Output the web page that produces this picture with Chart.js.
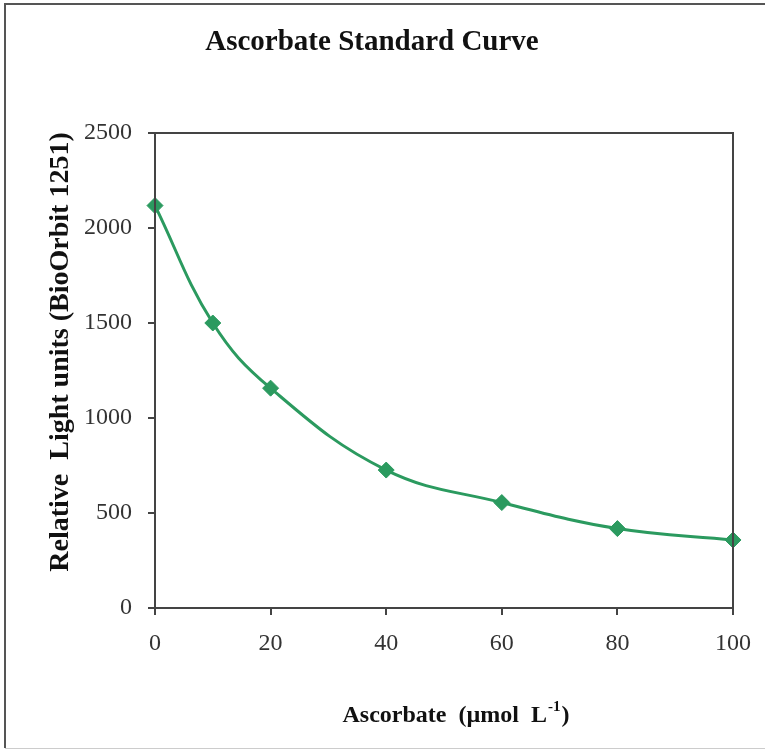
<!DOCTYPE html>
<html>
<head>
<meta charset="utf-8">
<script src="https://cdn.jsdelivr.net/npm/chart.js@4.4.1/dist/chart.umd.min.js"></script>
<style>
  html, body { margin: 0; padding: 0; background: #fff; }
  #wrap { position: relative; width: 765px; height: 750px; }
</style>
</head>
<body>
<div id="wrap"><canvas id="myChart" width="765" height="750"></canvas></div>
<script>
    "use strict";

    // values
    var ascorbate = [0, 10, 20, 40, 60, 80, 100];
    var lightUnits = [2118, 1500, 1157, 726, 555, 418, 358];
    var xTicks = [0, 20, 40, 60, 80, 100];
    var yTicks = [0, 500, 1000, 1500, 2000, 2500];

    var green = '#2b9a5f';
    var axisGrey = '#444';
    var serif = '"Liberation Serif", "Times New Roman", serif';

    // titles and outer frame drawn on the canvas
    var labelsPlugin = {
        id: 'labels',
        afterDraw: function (chart) {
            var ctx = chart.ctx;
            var area = chart.chartArea;
            ctx.save();

            // outer frame
            ctx.strokeStyle = '#555';
            ctx.lineWidth = 2;
            ctx.beginPath();
            ctx.moveTo(5, 748);
            ctx.lineTo(5, 4);
            ctx.lineTo(765, 4);
            ctx.stroke();
            ctx.strokeStyle = '#ccc';
            ctx.lineWidth = 1;
            ctx.beginPath();
            ctx.moveTo(5, 748.5);
            ctx.lineTo(765, 748.5);
            ctx.stroke();

            // plot box
            ctx.strokeStyle = axisGrey;
            ctx.lineWidth = 2;
            ctx.strokeRect(area.left, area.top, area.right - area.left, area.bottom - area.top);

            ctx.fillStyle = '#111';
            ctx.textBaseline = 'middle';

            // chart title
            ctx.font = 'bold 29px ' + serif;
            ctx.textAlign = 'center';
            ctx.fillText('Ascorbate Standard Curve', 372, 43);

            // y axis title
            ctx.save();
            ctx.translate(61, 352);
            ctx.rotate(-Math.PI / 2);
            ctx.font = 'bold 28px ' + serif;
            ctx.fillText('Relative  Light units (BioOrbit 1251)', 0, 0);
            ctx.restore();

            // x axis title with superscript
            ctx.font = 'bold 24px ' + serif;
            ctx.textAlign = 'left';
            var main = 'Ascorbate  (\u00b5mol  L';
            var sup = '-1';
            var tail = ')';
            var wMain = ctx.measureText(main).width;
            ctx.font = 'bold 15px ' + serif;
            var wSup = ctx.measureText(sup).width;
            ctx.font = 'bold 24px ' + serif;
            var wTail = ctx.measureText(tail).width;
            var x0 = 455 - (wMain + wSup + wTail) / 2;
            var y0 = 716;
            ctx.fillText(main, x0, y0);
            ctx.font = 'bold 15px ' + serif;
            ctx.fillText(sup, x0 + wMain + 1, y0 - 9);
            ctx.font = 'bold 24px ' + serif;
            ctx.fillText(tail, x0 + wMain + wSup + 2, y0);

            ctx.restore();
        }
    };

    var points = ascorbate.map(function (x, i) {
        return { x: x, y: lightUnits[i] };
    });

    var ctx = document.getElementById('myChart').getContext('2d');
    var chart = new Chart(ctx, {
        type: 'line',
        data: {
            datasets: [{
                label: 'Ascorbate',
                data: points,
                borderColor: green,
                backgroundColor: green,
                borderWidth: 3,
                tension: 0.4,
                pointStyle: 'rectRot',
                pointRadius: 8,
                pointHoverRadius: 8,
                pointBorderWidth: 1,
                clip: false,
                fill: false
            }]
        },
        options: {
            responsive: false,
            animation: false,
            layout: {
                padding: { left: 0, right: 31, top: 133, bottom: 0 }
            },
            plugins: {
                legend: { display: false },
                title: { display: false },
                tooltip: { enabled: false }
            },
            scales: {
                x: {
                    type: 'linear',
                    min: 0,
                    max: 100,
                    afterFit: function (scale) { scale.height = 142; },
                    afterBuildTicks: function (scale) {
                        scale.ticks = xTicks.map(function (v) { return { value: v }; });
                    },
                    grid: {
                        display: true,
                        drawOnChartArea: false,
                        drawTicks: true,
                        tickLength: 7,
                        color: axisGrey,
                        lineWidth: 2
                    },
                    border: { display: true, color: axisGrey, width: 2 },
                    ticks: {
                        color: '#333',
                        padding: 14,
                        maxRotation: 0,
                        font: { family: serif, size: 24 },
                        callback: function (value) { return String(value); }
                    }
                },
                y: {
                    min: 0,
                    max: 2500,
                    afterFit: function (scale) { scale.width = 155; },
                    afterBuildTicks: function (scale) {
                        scale.ticks = yTicks.map(function (v) { return { value: v }; });
                    },
                    grid: {
                        display: true,
                        drawOnChartArea: false,
                        drawTicks: true,
                        tickLength: 7,
                        color: axisGrey,
                        lineWidth: 2
                    },
                    border: { display: true, color: axisGrey, width: 2 },
                    ticks: {
                        color: '#333',
                        padding: 16,
                        font: { family: serif, size: 24 },
                        callback: function (value) { return String(value); }
                    }
                }
            }
        },
        plugins: [labelsPlugin]
    });
</script>
</body>
</html>
